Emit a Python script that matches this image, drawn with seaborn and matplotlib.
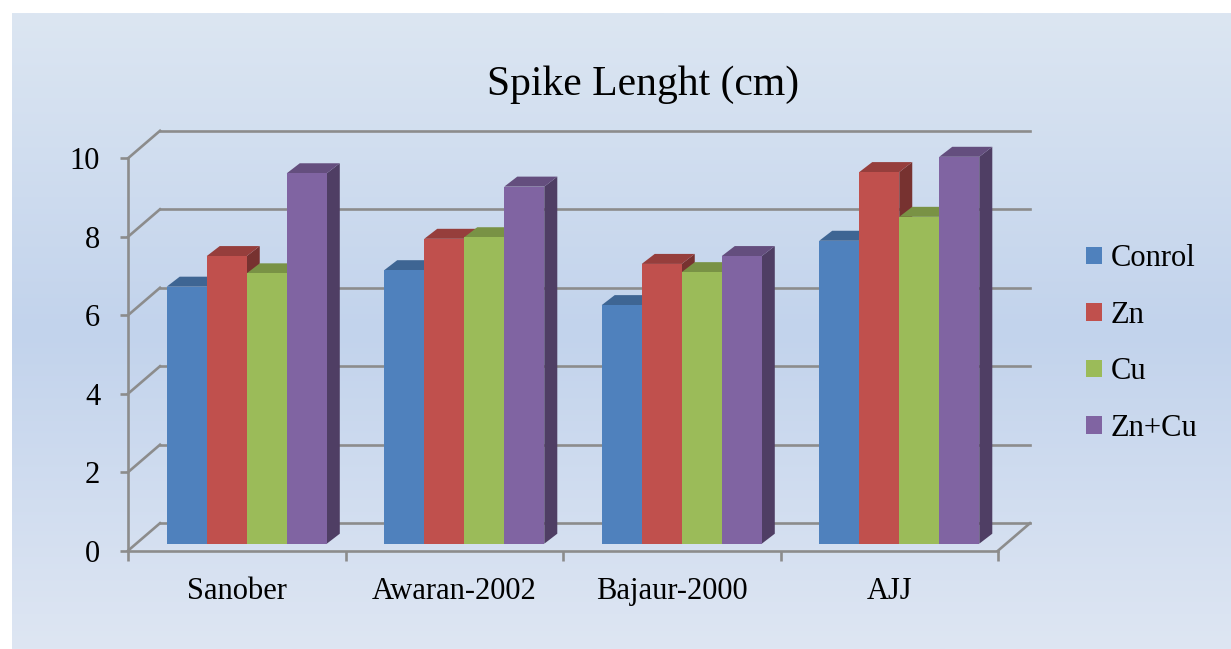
import numpy as np
import pandas as pd
import matplotlib
matplotlib.use("Agg")
import matplotlib.pyplot as plt
from matplotlib.colors import LinearSegmentedColormap, to_rgb
from matplotlib.patches import Polygon, Patch
import seaborn as sns

# values
varieties = ["Sanober", "Awaran-2002", "Bajaur-2000", "AJJ"]
treatments = ["Conrol", "Zn", "Cu", "Zn+Cu"]
control = [6.55, 6.97, 6.08, 7.72]
zinc = [7.33, 7.77, 7.13, 9.47]
copper = [6.89, 7.81, 6.92, 8.33]
zinc_copper = [9.44, 9.10, 7.33, 9.86]
y_ticks = [0, 2, 4, 6, 8, 10]
palette = ["#4F81BD", "#C0504D", "#9BBB59", "#8064A2"]

GRID = "#8C8C8C"
W, H = 1231, 649

df = pd.DataFrame({
    "variety": varieties * 4,
    "treatment": np.repeat(treatments, len(varieties)),
    "value": control + zinc + copper + zinc_copper,
})

plt.rcParams["font.family"] = ["Liberation Serif", "DejaVu Serif"]

fig = plt.figure(figsize=(W / 100, H / 100), dpi=100)

# gradient background panel
bg = fig.add_axes([12 / W, 0, 1 - 12 / W, 1 - 13 / H])
cmap = LinearSegmentedColormap.from_list("bg", ["#DCE6F2", "#C2D3EC", "#DEE6F3"])
bg.imshow(np.linspace(0, 1, 256).reshape(-1, 1), aspect="auto", cmap=cmap,
          extent=[0, 1, 0, 1], origin="upper")
bg.axis("off")

# front plane of the pseudo 3d chart
x0_px, x1_px, y0_px, y1_px = 128, 998, 550.7, 158.3
ax = fig.add_axes([x0_px / W, (H - y0_px) / H, (x1_px - x0_px) / W, (y0_px - y1_px) / H])
ax.patch.set_alpha(0)

sns.barplot(data=df, x="variety", y="value", hue="treatment", palette=palette,
            saturation=1, width=0.736, linewidth=0, dodge=True, legend=False,
            ax=ax, zorder=4)

ax.set_xlim(-0.5, 3.5)
ax.set_ylim(0, 10)
px_x = (x1_px - x0_px) / 4
px_y = (y0_px - y1_px) / 10

def dx(p):
    return p / px_x

def dy(p):
    return p / px_y

# back wall and side wall
bx, by = dx(32), dy(27.5)
for v in y_ticks:
    ax.plot([-0.5 + bx, 3.5 + bx], [v + by, v + by], color=GRID, lw=1.9, clip_on=False, zorder=1)
    ax.plot([-0.5, -0.5 + bx], [v, v + by], color=GRID, lw=1.9, clip_on=False, zorder=1)
ax.plot([3.5, 3.5 + bx], [0, by], color=GRID, lw=1.9, clip_on=False, zorder=1)

# fake depth for the bars
shift_x, shift_y = dx(10), dy(7)
depth_x, depth_y = dx(13), dy(10)
for bar in ax.patches:
    bar.set_x(bar.get_x() + shift_x)
    bar.set_y(shift_y)
    bar.set_clip_on(False)
    c = np.array(to_rgb(bar.get_facecolor()))
    xa = bar.get_x()
    xb = xa + bar.get_width()
    ya = bar.get_y()
    yb = ya + bar.get_height()
    side = Polygon([(xb, ya), (xb, yb), (xb + depth_x, yb + depth_y), (xb + depth_x, ya + depth_y)],
                   closed=True, facecolor=c * 0.62, edgecolor="none", zorder=2, clip_on=False)
    top = Polygon([(xa, yb), (xb, yb), (xb + depth_x, yb + depth_y), (xa + depth_x, yb + depth_y)],
                  closed=True, facecolor=c * 0.78, edgecolor="none", zorder=3, clip_on=False)
    ax.add_patch(side)
    ax.add_patch(top)

# axes lines and ticks
for s in ["top", "right"]:
    ax.spines[s].set_visible(False)
for s in ["left", "bottom"]:
    ax.spines[s].set_color(GRID)
    ax.spines[s].set_linewidth(1.9)
    ax.spines[s].set_zorder(5)

ax.set_yticks(y_ticks)
ax.tick_params(axis="y", length=6, width=1.9, color=GRID, pad=14, labelsize=22)
ax.set_xticks(range(len(varieties)))
ax.set_xticklabels(varieties)
ax.set_xticks(np.arange(-0.5, 4, 1), minor=True)
ax.tick_params(axis="x", which="major", length=0, pad=19, labelsize=22)
ax.tick_params(axis="x", which="minor", length=7, width=1.9, color=GRID)
ax.set_xlabel("")
ax.set_ylabel("")

fig.text(643 / W, 1 - 85 / H, "Spike Lenght (cm)", ha="center", va="center", fontsize=30)

handles = [Patch(facecolor=c, edgecolor="none") for c in palette]
fig.legend(handles, treatments, loc="upper left", bbox_to_anchor=(1071 / W, 1 - 229 / H),
           frameon=False, fontsize=22, handlelength=0.5, handleheight=0.5,
           handletextpad=0.3, labelspacing=0.9, borderpad=0)

fig.savefig("out.png", dpi=100)
